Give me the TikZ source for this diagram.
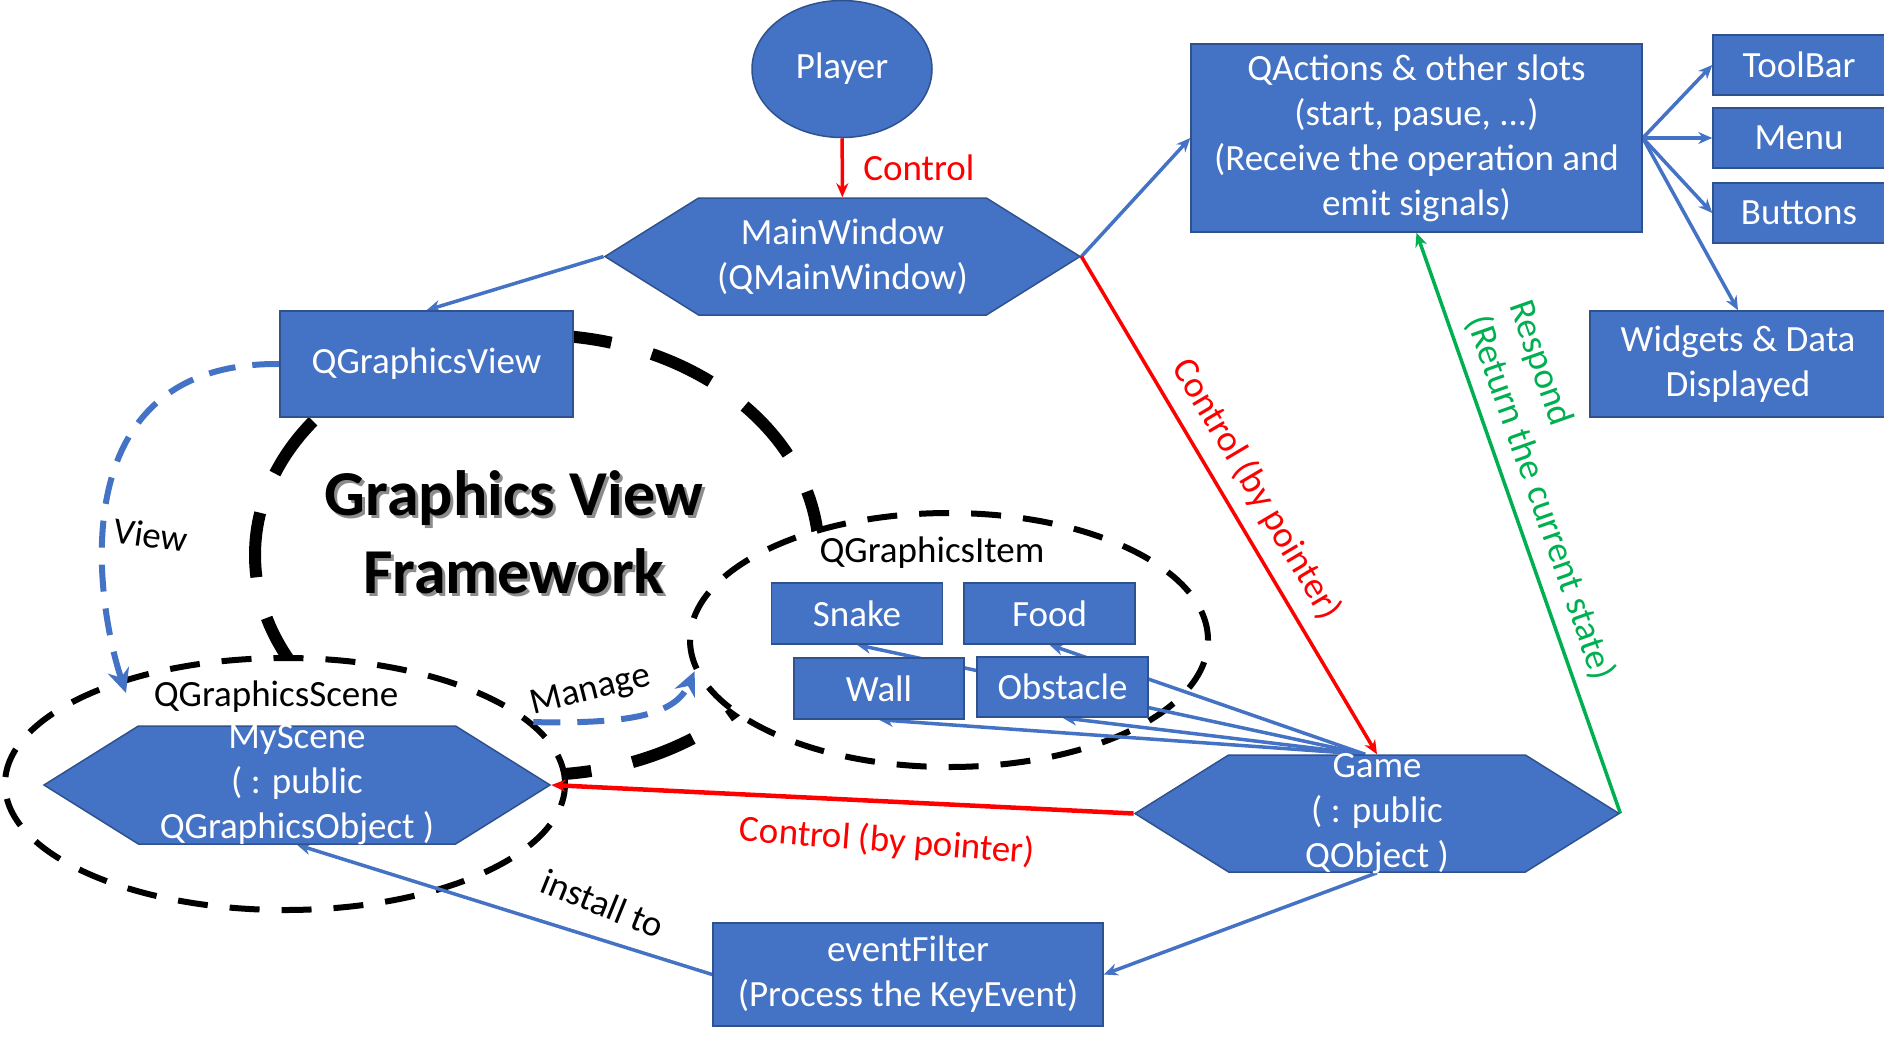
\documentclass[tikz,border=0pt]{standalone}
\usepackage{fontspec}
\setmainfont{Carlito}
\usetikzlibrary{shapes.geometric,shapes.symbols,arrows.meta}

\definecolor{boxblue}{HTML}{4472C4}
\definecolor{boxedge}{HTML}{2F528F}
\definecolor{ctrlred}{HTML}{FF0000}
\definecolor{respgreen}{HTML}{00B050}

\pgfdeclarelayer{bg}
\pgfsetlayers{bg,main}

\tikzset{
  boxtext/.style={text=white, font=\fontsize{37}{45}\selectfont, align=center},
  plaintext/.style={text=black, font=\fontsize{37}{45}\selectfont, align=center},
  bluefill/.style={draw=boxedge, fill=boxblue, line width=1.5pt},
  bluebox/.style={rectangle, bluefill, boxtext, inner sep=2pt},
  hexbox/.style={signal, signal to=west and east, signal pointer angle=64, bluefill},
  bigring/.style={ellipse, draw=black, line width=12pt, dash pattern=on 65pt off 42pt},
  groupring/.style={ellipse, draw=black, fill=white, line width=6pt, dash pattern=on 30pt off 22pt},
  blueflow/.style={draw=boxblue, line width=3.5pt, -{Stealth[length=14pt,width=12pt]}},
  redflow/.style={draw=ctrlred, line width=3.5pt, -{Stealth[length=14pt,width=12pt]}},
  greenflow/.style={draw=respgreen, line width=3.5pt, -{Stealth[length=14pt,width=12pt]}},
  dashflow/.style={draw=boxblue, line width=6pt, dash pattern=on 27pt off 17pt,
                   -{Stealth[length=24pt,width=22pt]}}
}

\begin{document}
\begin{tikzpicture}[x=1pt, y=1pt]
    \useasboundingbox (0,0) rectangle (1884,-1042);

    % rings behind everything
    \begin{pgfonlayer}{bg}
        \node[bigring, minimum width=564pt, minimum height=440pt] (gvfring) at (537,-555) {};
        \node[groupring, minimum width=518pt, minimum height=254pt] (itemring) at (949,-640) {};
        \node[groupring, minimum width=560pt, minimum height=252pt] (scenering) at (285,-784) {};
    \end{pgfonlayer}

    \node[ellipse, bluefill, boxtext, minimum width=180pt, minimum height=137pt] (player) at (842,-69) {Player};
    \node[hexbox, minimum width=475pt, minimum height=117pt,
          label={[boxtext]center:{MainWindow\\(QMainWindow)}}] (mainwin) at (842.5,-256.5) {};
    \node[bluebox, minimum width=451pt, minimum height=188pt] (qactions) at (1416.5,-138)
        {QActions \& other slots\\(start, pasue, ...)\\(Receive the operation and\\emit signals)};
    \node[bluebox, minimum width=172pt, minimum height=60pt] (toolbar) at (1799,-65) {ToolBar};
    \node[bluebox, minimum width=172pt, minimum height=60pt] (menu) at (1799,-138) {Menu};
    \node[bluebox, minimum width=172pt, minimum height=60pt] (buttons) at (1799,-213) {Buttons};
    \node[bluebox, minimum width=296pt, minimum height=106pt] (widgets) at (1738,-364) {Widgets \& Data\\Displayed};
    \node[bluebox, minimum width=293pt, minimum height=106pt] (qview) at (426.5,-364) {QGraphicsView};

    % title with its shadow
    \node[text=black!45, font=\bfseries\fontsize{64}{78}\selectfont, align=center] (gvfshadow) at (517,-535) {Graphics View\\Framework};
    \node[font=\bfseries\fontsize{64}{78}\selectfont, align=center] (gvftitle) at (514,-532) {Graphics View\\Framework};

    \node[plaintext] (itemlbl) at (932,-553) {QGraphicsItem};
    \node[bluebox, minimum width=171pt, minimum height=61pt] (snake) at (857,-613.5) {Snake};
    \node[bluebox, minimum width=171pt, minimum height=61pt] (food) at (1049.5,-613.5) {Food};
    \node[bluebox, minimum width=170pt, minimum height=61pt] (wall) at (879,-688.5) {Wall};
    \node[bluebox, minimum width=171pt, minimum height=60pt] (obstacle) at (1062.5,-687) {Obstacle};

    \node[plaintext] (scenelbl) at (276,-697) {QGraphicsScene};
    \node[hexbox, minimum width=506pt, minimum height=118pt,
          label={[boxtext]center:{MyScene\\( : public\\QGraphicsObject )}}] (myscene) at (297,-785) {};
    \node[hexbox, minimum width=484pt, minimum height=117pt,
          label={[boxtext]center:{Game\\( : public\\QObject )}}] (game) at (1377,-813.5) {};
    \node[bluebox, minimum width=390pt, minimum height=103pt] (evfilter) at (908,-974.5)
        {eventFilter\\(Process the KeyEvent)};

    \coordinate (viewend) at (126,-693);
    \node[plaintext, rotate=-8] (viewlbl) at (151,-535) {View};
    \node[plaintext, rotate=14] (managelbl) at (591,-691) {Manage};

    % connectors
    \begin{pgfonlayer}{bg}
        \draw[redflow] (player) -- (mainwin)
            node[midway, right=16pt, text=ctrlred, font=\fontsize{37}{45}\selectfont] {Control};
        \draw[blueflow] (mainwin.west) -- (qview.north);
        \draw[blueflow] (mainwin.east) -- (qactions.west);
        \draw[redflow] (mainwin.east) -- (game.north)
            node[pos=0.5, sloped, above=10pt, text=ctrlred, font=\fontsize{37}{45}\selectfont] {Control (by pointer)};
        \draw[blueflow] (qactions.east) -- (toolbar.west);
        \draw[blueflow] (qactions.east) -- (menu.west);
        \draw[blueflow] (qactions.east) -- (buttons.west);
        \draw[blueflow] (qactions.east) -- (widgets.north);
        \draw[greenflow] (game.east) -- (qactions.south)
            node[pos=0.527, sloped, above=8pt, text=respgreen, align=left, font=\fontsize{37}{45}\selectfont] {Respond\\(Return the current state)};
        \draw[redflow, line width=4.5pt] (game.west) -- (myscene.east)
            node[pos=0.42, below=18pt, rotate=-4.5, text=ctrlred, font=\fontsize{37}{45}\selectfont] {Control (by pointer)};
        \draw[blueflow] (game.south) -- (evfilter.east);
        \draw[blueflow] (evfilter.west) -- (myscene.south)
            node[pos=0.28, above=18pt, rotate=-22, plaintext] {install to};
        \draw[blueflow] ([xshift=-12pt]game.north) -- (snake.south);
        \draw[blueflow] ([xshift=-12pt]game.north) -- (food.south);
        \draw[blueflow] ([xshift=-12pt]game.north) -- (wall.south);
        \draw[blueflow] ([xshift=-12pt]game.north) -- (obstacle.south);
        \draw[dashflow] (qview.west) .. controls (60,-362) and (95,-600) .. (viewend);
        \draw[dashflow] (scenering.14) .. controls (630,-724) and (675,-715) .. (itemring.187);
    \end{pgfonlayer}
\end{tikzpicture}
\end{document}
